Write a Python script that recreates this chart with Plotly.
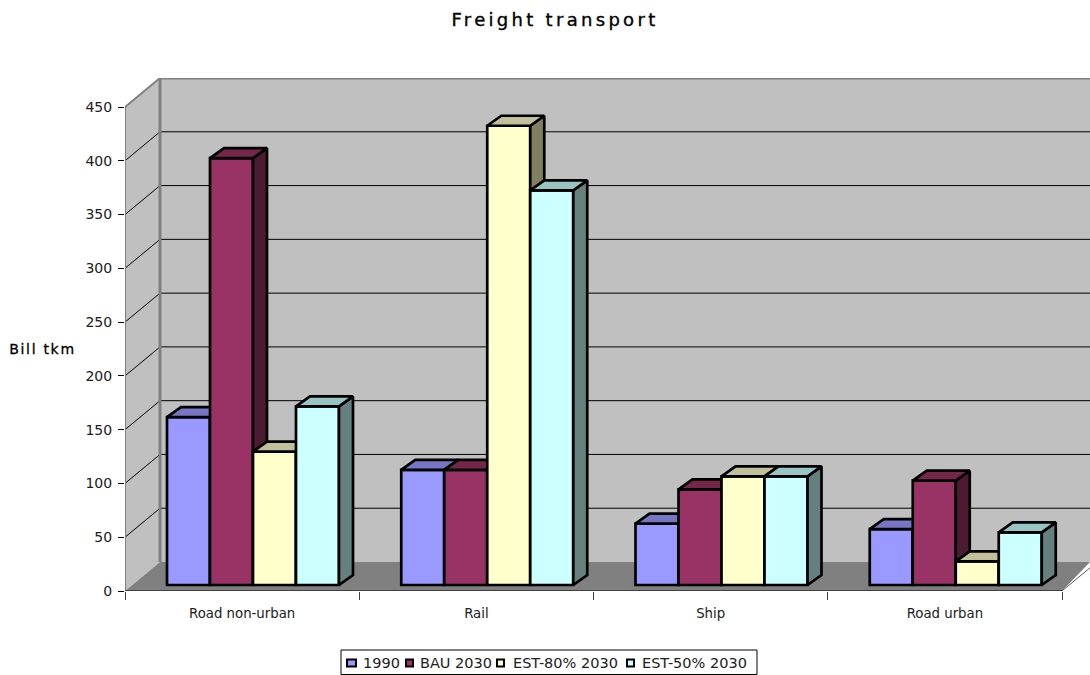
import plotly.graph_objects as go

# Data
categories = ["Road non-urban", "Rail", "Ship", "Road urban"]
series_names = ["1990", "BAU 2030", "EST-80% 2030", "EST-50% 2030"]
v_1990 = [156, 107, 57, 52]
v_bau = [397, 107, 89, 97]
v_est80 = [124, 427, 101, 22]
v_est50 = [166, 367, 101, 49]
series_values = [v_1990, v_bau, v_est80, v_est50]
y_ticks = [0, 50, 100, 150, 200, 250, 300, 350, 400, 450]

front = ["#9999FF", "#993366", "#FFFFCC", "#CCFFFF"]
top = ["#7676C4", "#752749", "#C0C09A", "#99C4C4"]
side = ["#4D4D80", "#4D1A33", "#808060", "#668080"]

W, H = 1090, 675
L, T, B = 125, 78, 84
cat_px = 234.25
y_px = 1.0755
wall_dx, wall_dy = 35 / cat_px, 29 / y_px
x_max = (W - L) / cat_px
y_max = (H - B - T) / y_px
bar_w = 43 / cat_px
bar_start = 42 / cat_px
bar_dx, bar_dy = 14 / cat_px, 10 / y_px
base = 6 / y_px
n_cat = len(categories)
edge = 2.7

fig = go.Figure()
for s, vals in enumerate(series_values):
    ax = "" if s == 0 else str(s + 1)
    xa, ya = "x" + ax, "y" + ax
    centers, sx, sy, tx, ty = [], [], [], [], []
    for c, v in enumerate(vals):
        left = c + bar_start + s * bar_w
        right = left + bar_w
        centers.append(left + bar_w / 2)
        yt = base + v
        sx += [right, right + bar_dx, right + bar_dx, right, right, None]
        sy += [base, base + bar_dy, yt + bar_dy, yt, base, None]
        tx += [left, left + bar_dx, right + bar_dx, right, left, None]
        ty += [yt, yt + bar_dy, yt + bar_dy, yt, yt, None]
    fig.add_trace(go.Bar(x=centers, y=vals, base=base, width=bar_w, name=series_names[s],
                         marker=dict(color=front[s], line=dict(color="black", width=edge)),
                         xaxis=xa, yaxis=ya, showlegend=False))
    for px_, py_, col in ((sx, sy, side[s]), (tx, ty, top[s])):
        fig.add_trace(go.Scatter(x=px_, y=py_, mode="lines", fill="toself", fillcolor=col,
                                 line=dict(color="black", width=edge), showlegend=False,
                                 hoverinfo="skip", xaxis=xa, yaxis=ya))

shapes = []
def poly(points, fill):
    d = "M " + " L ".join(f"{x},{y}" for x, y in points) + " Z"
    shapes.append(dict(type="path", path=d, xref="x", yref="y", layer="below", fillcolor=fill,
                       line=dict(color=fill, width=0)))
def seg(x0, y0, x1, y1, col, width):
    shapes.append(dict(type="line", x0=x0, y0=y0, x1=x1, y1=y1, xref="x", yref="y", layer="below",
                       line=dict(color=col, width=width)))

top_v = y_ticks[-1]
poly([(wall_dx, wall_dy), (x_max, wall_dy), (x_max, top_v + wall_dy), (wall_dx, top_v + wall_dy)], "#C0C0C0")
poly([(0, 0), (wall_dx, wall_dy), (wall_dx, top_v + wall_dy), (0, top_v)], "#C0C0C0")
poly([(0, 0), (wall_dx, wall_dy), (x_max, wall_dy), (n_cat, 0)], "#808080")
for v in y_ticks[1:-1]:
    seg(0, v, wall_dx, v + wall_dy, "black", 1)
    seg(wall_dx, v + wall_dy, x_max, v + wall_dy, "black", 1)
seg(wall_dx, wall_dy, wall_dx, top_v + wall_dy, "#808080", 3)
seg(wall_dx, top_v + wall_dy, x_max, top_v + wall_dy, "#808080", 3)
seg(0, 0, 0, top_v, "#808080", 2)
seg(0, top_v, wall_dx, top_v + wall_dy, "#808080", 2)
seg(0, 0, n_cat, 0, "#404040", 2)
seg(n_cat, 0, x_max, (x_max - n_cat) / wall_dx * wall_dy, "#606060", 1)

# legend box, drawn in page coordinates
def px(x): return (x - L) / (W - L)
def py(y): return (H - B - y) / (H - T - B)
shapes.append(dict(type="rect", xref="paper", yref="paper", x0=px(341), x1=px(757), y0=py(674.5), y1=py(650),
                   line=dict(color="black", width=1), fillcolor="white", layer="above"))
legend_swatch = [(347, 356), (406, 413), (497, 504), (627, 634)]
legend_text_x = [362, 419, 512, 641]
annotations = [dict(text="Bill tkm", xref="paper", yref="paper", x=px(42), y=py(349), showarrow=False,
                    xanchor="center", yanchor="middle", font=dict(size=14, color="black"))]
for s, name in enumerate(series_names):
    x0, x1 = legend_swatch[s]
    shapes.append(dict(type="rect", xref="paper", yref="paper", x0=px(x0), x1=px(x1), y0=py(666.5), y1=py(659.5),
                       line=dict(color="black", width=2), fillcolor=front[s], layer="above"))
    annotations.append(dict(text=name, xref="paper", yref="paper", x=px(legend_text_x[s]), y=py(663),
                            showarrow=False, xanchor="left", yanchor="middle", xshift=-1,
                            font=dict(size=14.5, color="#202020")))

layout = dict(
    width=W, height=H, margin=dict(l=L, r=0, t=T, b=B, pad=0, autoexpand=False),
    paper_bgcolor="white", plot_bgcolor="white", barmode="overlay",
    font=dict(family="DejaVu Sans", size=13, color="black"),
    title=dict(text="Freight transport", x=555 / W, xanchor="center", y=1 - 20 / H, yanchor="middle",
               font=dict(size=18, color="black")),
    xaxis=dict(range=[0, x_max], tickmode="array", tickvals=[c + 0.5 for c in range(n_cat)],
               ticktext=categories, ticks="", showgrid=False, zeroline=False, showline=False,
               tickfont=dict(size=13.3, color="#202020"), ticklabelstandoff=13,
               minor=dict(tickmode="array", tickvals=list(range(n_cat + 1)), ticks="outside",
                          ticklen=8, tickcolor="#404040", tickwidth=1, showgrid=False)),
    yaxis=dict(range=[0, y_max], tickmode="array", tickvals=y_ticks, ticks="outside", ticklen=6,
               tickcolor="black", tickwidth=1, showgrid=False, zeroline=False, showline=False,
               tickfont=dict(size=14, color="#202020"), ticklabelstandoff=3),
    annotations=annotations,
    shapes=shapes,
    showlegend=False,
)
for s in range(1, len(series_values)):
    layout[f"xaxis{s+1}"] = dict(range=[0, x_max], overlaying="x", visible=False, showgrid=False)
    layout[f"yaxis{s+1}"] = dict(range=[0, y_max], overlaying="y", visible=False, showgrid=False)
fig.update_layout(**layout)

post = """
document.body.style.margin='0';document.body.style.overflow='hidden';
var gd=document.querySelector('.js-plotly-plot');
gd.querySelectorAll('.gtitle').forEach(function(e){e.style.letterSpacing='3.3px';e.style.stroke='black';e.style.strokeWidth='0.35px';});
var a=gd.querySelectorAll('.annotation-text');
if(a.length){a[0].style.letterSpacing='1.7px';a[0].style.stroke='black';a[0].style.strokeWidth='0.3px';}
"""
fig.write_html("out.html", post_script=post, config={"displayModeBar": False})
